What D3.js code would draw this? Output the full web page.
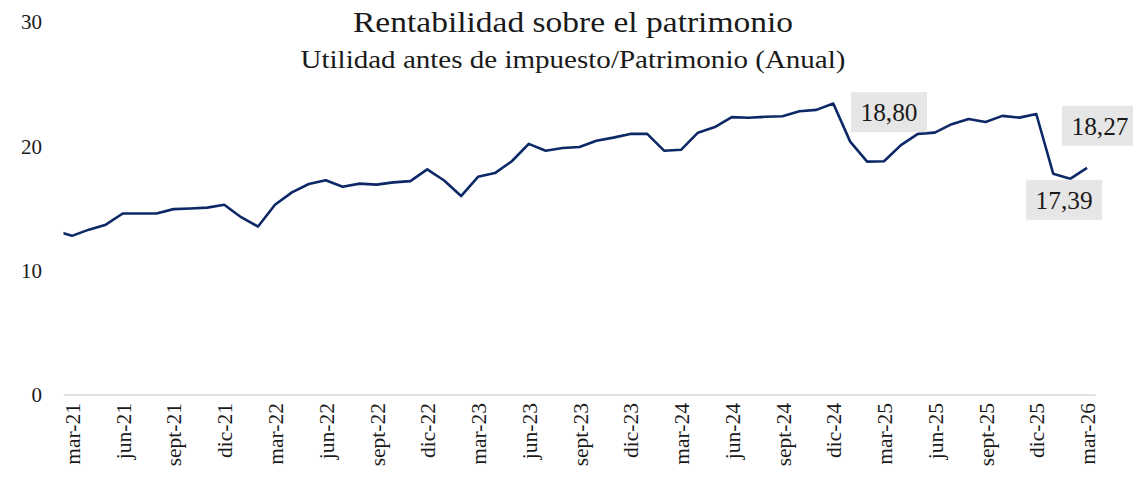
<!DOCTYPE html>
<html>
<head>
<meta charset="utf-8">
<script src="https://cdn.jsdelivr.net/npm/d3@7"></script>
<style>
  body { margin: 0; background: #fff; }
  svg { display: block; font-family: "Liberation Serif", "Times New Roman", serif; }
</style>
</head>
<body>
<svg id="chart" width="1133" height="496"></svg>
<script>
// meses (el primero, feb-21, queda fuera del área y se recorta)
var meses = [
  "feb-21",
  "mar-21", "abr-21", "may-21", "jun-21", "jul-21", "ago-21", "sept-21", "oct-21", "nov-21", "dic-21",
  "ene-22", "feb-22", "mar-22", "abr-22", "may-22", "jun-22", "jul-22", "ago-22", "sept-22", "oct-22", "nov-22", "dic-22",
  "ene-23", "feb-23", "mar-23", "abr-23", "may-23", "jun-23", "jul-23", "ago-23", "sept-23", "oct-23", "nov-23", "dic-23",
  "ene-24", "feb-24", "mar-24", "abr-24", "may-24", "jun-24", "jul-24", "ago-24", "sept-24", "oct-24", "nov-24", "dic-24",
  "ene-25", "feb-25", "mar-25", "abr-25", "may-25", "jun-25", "jul-25", "ago-25", "sept-25", "oct-25", "nov-25", "dic-25",
  "ene-26", "feb-26", "mar-26"
];

// ROE anual (%)
var roe = [
  13.2,
  12.8, 13.3, 13.7, 14.6, 14.6, 14.6, 14.95, 15.0, 15.07, 15.3,
  14.3, 13.55, 15.3, 16.3, 16.97, 17.27, 16.75, 17.0, 16.92, 17.1, 17.2, 18.15,
  17.25, 16.0, 17.55, 17.85, 18.8, 20.2, 19.65, 19.87, 19.95, 20.45, 20.7, 21.0,
  21.0, 19.65, 19.72, 21.1, 21.55, 22.35, 22.3, 22.38, 22.42, 22.82, 22.93, 23.44,
  20.38, 18.77, 18.80, 20.1, 21.0, 21.1, 21.78, 22.2, 21.96, 22.45, 22.31, 22.6,
  17.8, 17.39, 18.27
];

var yTicks = [0, 10, 20, 30];

// valores rotulados
var etiquetas = ["mar-25", "feb-26", "mar-26"];

var titulo = "Rentabilidad sobre el patrimonio";
var subtitulo = "Utilidad antes de impuesto/Patrimonio (Anual)";

(function () {
  var svg = d3.select("#chart");

  var x0 = 63.5, x1 = 1095.5, yTop = 22, yBase = 395;

  var x = d3.scaleLinear()
    .domain([0.5, meses.length - 0.5])
    .range([x0, x1]);

  var y = d3.scaleLinear()
    .domain([0, 30])
    .range([yBase, yTop]);

  // titulos (la fuente original es mas ancha, se estira)
  svg.append("text")
    .attr("x", 573).attr("y", 32)
    .attr("text-anchor", "middle")
    .attr("textLength", 440)
    .attr("lengthAdjust", "spacingAndGlyphs")
    .style("font-size", "29px")
    .style("fill", "#1a1a1a")
    .text(titulo);

  svg.append("text")
    .attr("x", 573).attr("y", 68)
    .attr("text-anchor", "middle")
    .attr("textLength", 545)
    .attr("lengthAdjust", "spacingAndGlyphs")
    .style("font-size", "24.5px")
    .style("fill", "#1a1a1a")
    .text(subtitulo);

  // eje y (solo etiquetas)
  var yAxis = svg.append("g")
    .attr("transform", "translate(48,0)")
    .call(d3.axisLeft(y).tickValues(yTicks).tickSize(0).tickPadding(6));
  yAxis.select(".domain").remove();
  yAxis.selectAll("text")
    .style("font-family", "Liberation Serif, serif")
    .style("font-size", "21px")
    .style("fill", "#1a1a1a");

  // linea base
  svg.append("line")
    .attr("x1", x0).attr("x2", x1)
    .attr("y1", y(0)).attr("y2", y(0))
    .style("stroke", "#d9d9d9")
    .style("stroke-width", 1.5);

  // eje x, etiquetas cada 3 meses, rotadas
  var xAxis = svg.append("g")
    .attr("transform", "translate(0," + yBase + ")")
    .call(d3.axisBottom(x)
      .tickValues(d3.range(1, meses.length, 3))
      .tickFormat(function (i) { return meses[i]; })
      .tickSize(0));
  xAxis.select(".domain").remove();
  xAxis.selectAll("text")
    .attr("transform", "translate(0,8) rotate(-90)")
    .attr("text-anchor", "end")
    .attr("x", 0).attr("y", 0)
    .attr("dy", "0.35em")
    .style("font-family", "Liberation Serif, serif")
    .style("font-size", "21.5px")
    .style("fill", "#1a1a1a");

  // recorte del area de trazado
  svg.append("clipPath").attr("id", "clip")
    .append("rect")
    .attr("x", x0).attr("y", 0)
    .attr("width", x1 - x0).attr("height", 496);

  var line = d3.line()
    .x(function (d, i) { return x(i); })
    .y(function (d) { return y(d); });

  svg.append("path")
    .datum(roe)
    .attr("clip-path", "url(#clip)")
    .attr("d", line)
    .style("fill", "none")
    .style("stroke", "#0c2866")
    .style("stroke-width", 2.6)
    .style("stroke-linejoin", "round");

  // rotulos de valor
  var desplaz = { "mar-25": [5, -49], "feb-26": [-6, 21], "mar-26": [13, -42] };
  var fmt = function (v) { return v.toFixed(2).replace(".", ","); };

  etiquetas.forEach(function (m) {
    var i = meses.indexOf(m);
    var cx = x(i) + desplaz[m][0], cy = y(roe[i]) + desplaz[m][1];
    var g = svg.append("g").attr("transform", "translate(" + cx + "," + cy + ")");
    g.append("rect")
      .attr("x", -38).attr("y", -20)
      .attr("width", 76).attr("height", 40)
      .style("fill", "#e7e6e6");
    g.append("text")
      .attr("text-anchor", "middle")
      .attr("dy", "0.35em")
      .attr("textLength", 57)
      .attr("lengthAdjust", "spacingAndGlyphs")
      .style("font-size", "25px")
      .style("fill", "#1a1a1a")
      .text(fmt(roe[i]));
  });
})();
</script>
</body>
</html>
